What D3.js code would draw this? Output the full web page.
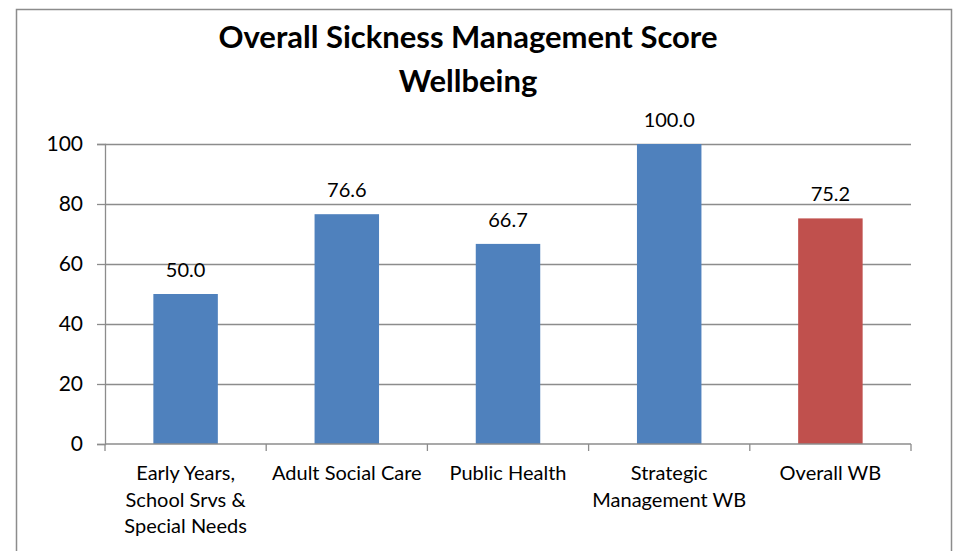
<!DOCTYPE html>
<html>
<head>
<meta charset="utf-8">
<script src="https://cdn.jsdelivr.net/npm/d3@7"></script>
<style>
  body { margin: 0; background: #fff; }
  text { font-family: Lato, "Open Sans", sans-serif; fill: #000; }
</style>
</head>
<body>
<svg id="chart" width="956" height="551"></svg>
<script>
const categories = [
  'Early Years,\nSchool Srvs &\nSpecial Needs',
  'Adult Social Care',
  'Public Health',
  'Strategic\nManagement WB',
  'Overall WB'
];
const scores = [50.0, 76.6, 66.7, 100.0, 75.2];
const barColors = ['#4f81bd', '#4f81bd', '#4f81bd', '#4f81bd', '#c0504d'];
const yTicks = [0, 20, 40, 60, 80, 100];
const titleLines = ['Overall Sickness Management Score', 'Wellbeing'];

function draw(rootId) {
  const GRID = '#8c8c8c';
  const root = d3.select(rootId);
  root.selectAll('*').remove();

  const margin = { left: 105, right: 911, top: 144, bottom: 444 };

  // outer frame
  root.append('rect')
    .attr('x', 16.5).attr('y', 9.5)
    .attr('width', 935).attr('height', 600)
    .attr('fill', '#fff')
    .attr('stroke', GRID)
    .attr('stroke-width', 1.5);

  const title = root.append('g');
  titleLines.forEach((t, i) => {
    title.append('text')
      .attr('x', 468).attr('y', 48 + i * 44)
      .attr('text-anchor', 'middle')
      .attr('font-weight', 'bold')
      .attr('font-size', '31px')
      .text(t);
  });

  const x = d3.scaleBand()
    .domain(categories)
    .range([margin.left, margin.right])
    .paddingInner(0.6)
    .paddingOuter(0.3);

  const y = d3.scaleLinear()
    .domain([0, 100])
    .range([margin.bottom, margin.top]);

  // gridlines
  root.append('g')
    .selectAll('line')
    .data(yTicks.filter(d => d > 0))
    .enter()
    .append('line')
    .attr('x1', margin.left).attr('x2', margin.right)
    .attr('y1', d => Math.round(y(d)) + 0.5)
    .attr('y2', d => Math.round(y(d)) + 0.5)
    .attr('stroke', GRID)
    .attr('stroke-width', 1.3);

  // bars
  root.append('g')
    .selectAll('rect')
    .data(scores)
    .enter()
    .append('rect')
    .attr('x', (d, i) => x(categories[i]))
    .attr('y', d => y(d))
    .attr('width', x.bandwidth())
    .attr('height', d => y(0) - y(d))
    .attr('fill', (d, i) => barColors[i]);

  // value labels
  root.append('g')
    .selectAll('text')
    .data(scores)
    .enter()
    .append('text')
    .attr('x', (d, i) => x(categories[i]) + x.bandwidth() / 2)
    .attr('y', d => y(d) - 17)
    .attr('text-anchor', 'middle')
    .attr('font-size', '20px')
    .text(d => d.toFixed(1));

  // y axis
  const yAxis = root.append('g')
    .attr('transform', `translate(${margin.left},0)`)
    .call(d3.axisLeft(y).tickValues(yTicks).tickSize(8).tickPadding(14));
  yAxis.select('.domain').attr('stroke', GRID).attr('stroke-width', 1.3);
  yAxis.selectAll('line').attr('stroke', GRID).attr('stroke-width', 1.3);
  yAxis.selectAll('text')
    .attr('font-size', '21px')
    .attr('font-family', 'Lato, "Open Sans", sans-serif')
    .attr('fill', '#000');

  // x axis line and ticks at category boundaries
  const step = x.step();
  const bounds = d3.range(categories.length + 1).map(i => margin.left + i * step);
  root.append('line')
    .attr('x1', margin.left).attr('x2', margin.right)
    .attr('y1', margin.bottom).attr('y2', margin.bottom)
    .attr('stroke', GRID).attr('stroke-width', 1.3);
  root.append('g')
    .selectAll('line')
    .data(bounds)
    .enter()
    .append('line')
    .attr('x1', d => d).attr('x2', d => d)
    .attr('y1', margin.bottom).attr('y2', margin.bottom + 7)
    .attr('stroke', GRID).attr('stroke-width', 1.3);

  // category labels
  const catLabels = root.append('g')
    .selectAll('text')
    .data(categories)
    .enter()
    .append('text')
    .attr('text-anchor', 'middle')
    .attr('font-size', '20px')
    .attr('transform', d => `translate(${x(d) + x.bandwidth() / 2},480)`);
  catLabels.selectAll('tspan')
    .data(d => d.split('\n'))
    .enter()
    .append('tspan')
    .attr('x', 0)
    .attr('y', (d, i) => i * 26.5)
    .text(d => d);
}

draw('#chart');
</script>
</body>
</html>
